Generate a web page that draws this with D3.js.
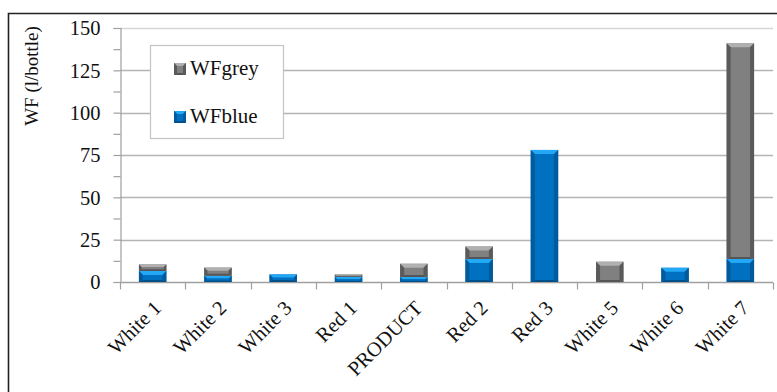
<!DOCTYPE html>
<html>
<head>
<meta charset="utf-8">
<script src="https://cdn.jsdelivr.net/npm/d3@7"></script>
<style>
  html, body { margin: 0; padding: 0; background: #fff; }
</style>
</head>
<body>
<svg id="chart" width="777" height="392"></svg>
<script>
// Water footprint per bottle, split into grey and blue components
const categories = ["White 1", "White 2", "White 3", "Red 1", "PRODUCT", "Red 2", "Red 3", "White 5", "White 6", "White 7"];
const wfBlue = [6.5, 3.7, 4.5, 3.0, 2.9, 13.6, 78, 0, 8.4, 13.6];
const wfGrey = [3.9, 4.8, 0, 1.5, 7.9, 7.4, 0, 12, 0, 127.4];
const yTicks = [0, 25, 50, 75, 100, 125, 150];
const seriesNames = ["WFgrey", "WFblue"];

const FONT = '"Liberation Serif"';
const svg = d3.select("#chart");
const W = 777, H = 392;
const m = { left: 120, right: 4 };

// outer frame
svg.append("path")
  .attr("d", `M8.5,${H + 2} V13.5 H${W + 2}`)
  .attr("fill", "none").attr("stroke", "#222").attr("stroke-width", 1.6);

const x = d3.scaleBand().domain(categories).range([m.left, W - m.right]).paddingInner(0.58).paddingOuter(0.29);
const xOuter = d3.scaleBand().domain(categories).range([m.left, W - m.right]);
const y = d3.scaleLinear().domain([0, 150]).range([282, 28]);

// gridlines
svg.append("g").selectAll("line").data(yTicks.filter(d => d > 0)).join("line")
  .attr("x1", m.left).attr("x2", W - m.right)
  .attr("y1", d => Math.round(y(d)) + 0.5).attr("y2", d => Math.round(y(d)) + 0.5)
  .attr("stroke", d => d === 150 ? "#d6d6d6" : "#b4b4b4").attr("stroke-width", 1.4);

// y axis
const yAxis = d3.axisLeft(y).tickValues(d3.range(0, 151, 12.5)).tickSize(7)
  .tickFormat(d => yTicks.includes(d) ? d : "");
const gy = svg.append("g").attr("transform", `translate(${m.left + 0.5},0)`).call(yAxis);
gy.attr("font-family", null).attr("font-size", null);
gy.select(".domain").attr("stroke", "#a0a0a0").attr("stroke-width", 1.2);
gy.selectAll(".tick line").attr("stroke", "#a0a0a0").attr("stroke-width", 1.2);
gy.selectAll(".tick text").style("font-family", FONT).style("font-size", "20.5px").attr("fill", "#111")
  .attr("x", -20).attr("dy", "0.33em");

// x axis with ticks on category boundaries
const gx = svg.append("g").attr("transform", `translate(0,${y(0) + 0.5})`);
gx.append("line").attr("x1", m.left).attr("x2", W - m.right).attr("stroke", "#a0a0a0").attr("stroke-width", 1.4);
gx.selectAll("line.bnd").data(categories.concat(["_end"])).join("line").attr("class", "bnd")
  .attr("x1", (d, i) => Math.round(m.left + i * xOuter.step()) + 0.5)
  .attr("x2", (d, i) => Math.round(m.left + i * xOuter.step()) + 0.5)
  .attr("y1", 0).attr("y2", 7).attr("stroke", "#a0a0a0").attr("stroke-width", 1.2);
gx.selectAll("text").data(categories).join("text")
  .attr("transform", d => `translate(${xOuter(d) + xOuter.bandwidth() / 2 + 5},${22}) rotate(-45)`)
  .attr("text-anchor", "end").attr("dy", "0.33em")
  .style("font-family", FONT).style("font-size", "20.5px").attr("fill", "#111").text(d => d);

// y axis title
svg.append("text")
  .attr("transform", `translate(38,76) rotate(-90)`)
  .attr("text-anchor", "middle").style("font-family", FONT).style("font-size", "19px").attr("fill", "#111")
  .text("WF (l/bottle)");

// bevelled bar segment
const palette = {
  blue: { base: "#0070c0", top: "#22a8f4", side: "#005a9c", bottom: "#00508a" },
  grey: { base: "#808080", top: "#b0b0b0", side: "#5a5a5a", bottom: "#555555" }
};
function bevel(g, x0, y0, w, h, c) {
  if (h <= 0) return;
  const b = Math.min(4, h / 2.5, w / 4);
  const bb = Math.min(2, h / 4);
  const x1 = x0 + w, y1 = y0 + h;
  g.append("rect").attr("x", x0).attr("y", y0).attr("width", w).attr("height", h).attr("fill", c.base);
  g.append("polygon").attr("points", `${x0},${y0} ${x1},${y0} ${x1 - b},${y0 + b} ${x0 + b},${y0 + b}`).attr("fill", c.top);
  g.append("polygon").attr("points", `${x0},${y0} ${x0 + b},${y0 + b} ${x0 + b},${y1 - bb} ${x0},${y1}`).attr("fill", c.side);
  g.append("polygon").attr("points", `${x1},${y0} ${x1 - b},${y0 + b} ${x1 - b},${y1 - bb} ${x1},${y1}`).attr("fill", c.side);
  g.append("polygon").attr("points", `${x0},${y1} ${x0 + b},${y1 - bb} ${x1 - b},${y1 - bb} ${x1},${y1}`).attr("fill", c.bottom);
}

const bars = svg.append("g");
categories.forEach((cat, i) => {
  const g = bars.append("g");
  const bx = x(cat), bw = x.bandwidth();
  const b0 = y(0), b1 = y(wfBlue[i]), g1 = y(wfBlue[i] + wfGrey[i]);
  bevel(g, bx, b1, bw, b0 - b1, palette.blue);
  bevel(g, bx, g1, bw, b1 - g1, palette.grey);
});

// legend
const lg = svg.append("g");
lg.append("rect").attr("x", 150.5).attr("y", 45.5).attr("width", 133).attr("height", 93)
  .attr("fill", "#fff").attr("stroke", "#c4c4c4").attr("stroke-width", 1.2);
const legendColors = [palette.grey, palette.blue];
seriesNames.forEach((name, i) => {
  const base = 74.5 + i * 48;
  bevel(lg, 174, base - 11.5, 12, 12, legendColors[i]);
  lg.append("text").attr("x", 190).attr("y", base)
    .style("font-family", FONT).style("font-size", "21px").attr("fill", "#111").text(name);
});
</script>
</body>
</html>
